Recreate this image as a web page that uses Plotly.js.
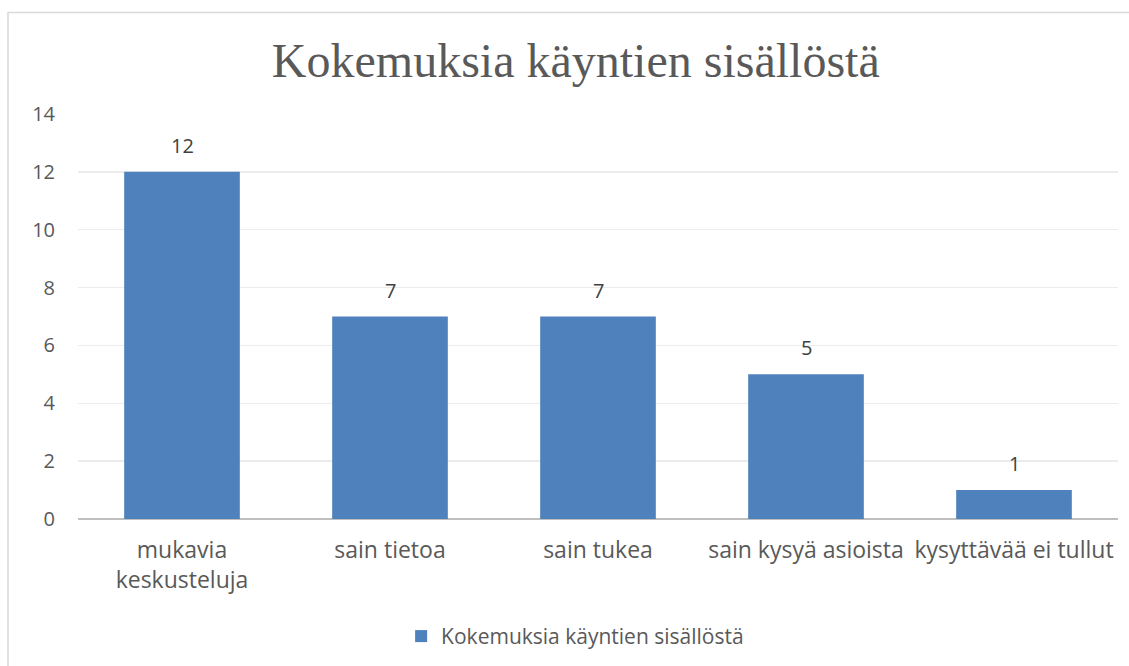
<!DOCTYPE html>
<html><head><meta charset="utf-8">
<script src="https://cdn.plot.ly/plotly-3.0.1.min.js"></script>
<style>html,body{margin:0;padding:0;background:#fff;}#chart{width:1129px;height:666px;}</style>
</head><body><div id="chart"></div>
<script>
var categories = ["mukavia<br>keskusteluja", "sain tietoa", "sain tukea", "sain kysyä asioista", "kysyttävää ei tullut"];
var values = [12, 7, 7, 5, 1];
var seriesName = "Kokemuksia käyntien sisällöstä";
var chartTitle = "Kokemuksia käyntien sisällöstä";
var yTicks = [0, 2, 4, 6, 8, 10, 12, 14];

var fam = "'Open Sans', 'Noto Sans', sans-serif";

var trace = {
  type: "bar", x: categories, y: values, name: seriesName,
  marker: {color: "#4F81BD"}, showlegend: true, hoverinfo: "none"
};

var annotations = categories.map(function(c, i){
  return {x: c, y: values[i], xref: "x", yref: "y", text: String(values[i]),
    showarrow: false, yanchor: "bottom", yshift: 11,
    font: {family: fam, size: 20, color: "#404040"}};
});

var L = 78, R = 1118, T = 114, B = 519;
var pw = R - L, ph = B - T;

var layout = {
  width: 1129, height: 666,
  margin: {l: L, r: 1129 - R, t: T, b: 666 - B, pad: 0, autoexpand: false},
  paper_bgcolor: "#fff", plot_bgcolor: "#fff",
  title: {text: chartTitle, x: 0.51, xanchor: "center", y: 0.91, yanchor: "middle",
    font: {family: "'Liberation Serif', 'DejaVu Serif', serif", size: 48, color: "#595959"}},
  bargap: 0.444,
  xaxis: {type: "category", showgrid: false, zeroline: false, showline: false,
    ticks: "", ticklabelstandoff: 15, tickfont: {family: fam, size: 23, color: "#595959"},
    automargin: false, fixedrange: true},
  yaxis: {range: [0, 14], tickvals: yTicks, ticktext: yTicks.map(String), showgrid: true,
    gridcolor: "#ececec", gridwidth: 1.5, zeroline: true, zerolinecolor: "#bfbfbf", zerolinewidth: 2.5,
    showline: false, ticks: "", ticklabelstandoff: 22, tickfont: {family: fam, size: 20, color: "#595959"},
    automargin: false, fixedrange: true},
  legend: {orientation: "h", x: 0.478, xanchor: "center", y: -0.29, yanchor: "middle",
    font: {family: fam, size: 21, color: "#595959"}, itemclick: false, itemdoubleclick: false},
  annotations: annotations,
  shapes: [{type: "rect", xref: "paper", yref: "paper",
    x0: (8 - L) / pw, x1: (1135 - L) / pw, y0: (B - 680) / ph, y1: (B - 12.5) / ph,
    line: {color: "#d9d9d9", width: 1.5}, fillcolor: "rgba(0,0,0,0)", layer: "below"}]
};

Plotly.newPlot("chart", [trace], layout, {displayModeBar: false, staticPlot: true});
</script></body></html>
